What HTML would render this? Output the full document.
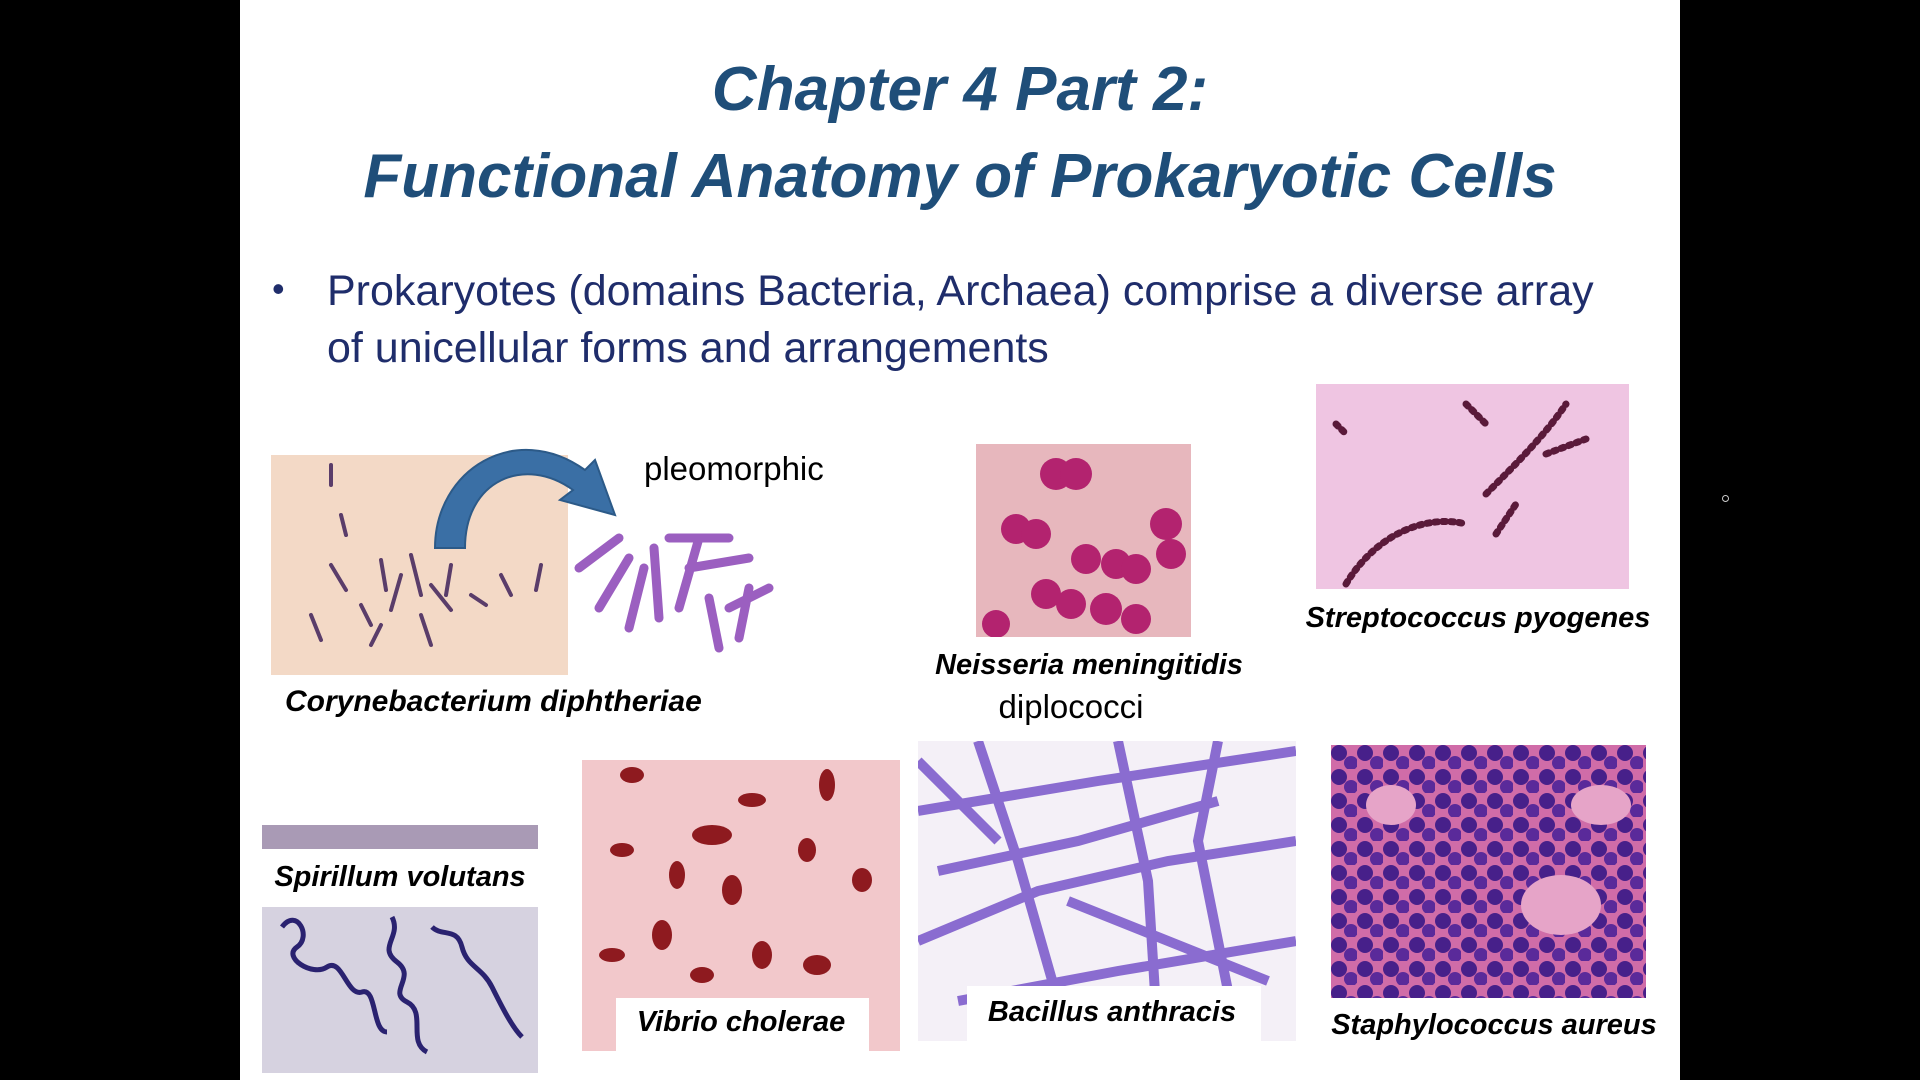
<!DOCTYPE html>
<html><head><meta charset="utf-8"><style>
body{margin:0;width:1920px;height:1080px;background:#000;position:relative;overflow:hidden;font-family:"Liberation Sans",sans-serif}
.slide{position:absolute;left:240px;top:0;width:1440px;height:1080px;background:#fff}
.t{position:absolute;white-space:nowrap}
.title{color:#1f4e79;font-weight:bold;font-style:italic;font-size:62px;left:240px;width:1440px;text-align:center}
.lab{font-weight:bold;font-style:italic;font-size:29px;color:#000}
.c{transform:translateX(-50%)}
.img{position:absolute;overflow:hidden}
</style></head><body>
<div class="slide"></div>
<div class="t title" style="top:54px">Chapter 4 Part 2:</div>
<div class="t title" style="top:141px">Functional Anatomy of Prokaryotic Cells</div>
<div class="t" style="left:272px;top:268px;font-size:36px;color:#1f2d6b">•</div>
<div class="t" style="left:327px;top:263px;font-size:43px;color:#1f2d6b;line-height:57px">Prokaryotes (domains Bacteria, Archaea) comprise a diverse array<br>of unicellular forms and arrangements</div>

<!-- Corynebacterium -->
<svg class="img" style="left:271px;top:455px" width="297" height="220"><rect width="297" height="220" fill="#f3d9c6"/>
<g stroke="#5a3d6a" stroke-width="4" stroke-linecap="round">
<path d="M60 110l15 25M110 105l5 30M130 120l-10 35M140 100l10 40M160 130l20 25M90 150l10 20M40 160l10 25M180 110l-5 30M200 140l15 10M70 60l5 20M230 120l10 20M150 160l10 30M110 170l-10 20M60 10l0 20M270 110l-5 25"/></g></svg>
<svg class="img" style="left:569px;top:508px" width="220" height="155">
<g stroke="#9b5fc0" stroke-width="9" stroke-linecap="round" fill="#8a4fb0">
<path d="M10 60L50 30M30 100L60 50M60 120L75 60M90 110L85 40M110 100L130 30M150 140L140 90M100 30L160 30M120 60L180 50M200 80L160 100M170 130L180 80"/></g></svg>
<svg class="img" style="left:425px;top:430px" width="200" height="120">
<path d="M10 118 C10 40 90 -10 160 40 L170 30 L190 85 L135 70 L148 60 C100 25 40 50 40 118Z" fill="#3a6fa5" stroke="#2c5a88" stroke-width="2"/></svg>
<div class="t" style="left:644px;top:450px;font-size:33px">pleomorphic</div>
<div class="t lab" style="left:285px;top:685px;font-size:30px">Corynebacterium diphtheriae</div>

<!-- Neisseria -->
<svg class="img" style="left:976px;top:444px" width="215" height="193"><rect width="215" height="193" fill="#e7b7bd"/>
<g fill="#b3236f"><circle cx="80" cy="30" r="16"/><circle cx="100" cy="30" r="16"/><circle cx="40" cy="85" r="15"/><circle cx="60" cy="90" r="15"/><circle cx="190" cy="80" r="16"/><circle cx="195" cy="110" r="15"/><circle cx="110" cy="115" r="15"/><circle cx="140" cy="120" r="15"/><circle cx="160" cy="125" r="15"/><circle cx="70" cy="150" r="15"/><circle cx="95" cy="160" r="15"/><circle cx="130" cy="165" r="16"/><circle cx="160" cy="175" r="15"/><circle cx="20" cy="180" r="14"/></g></svg>
<div class="t lab c" style="left:1089px;top:649px">Neisseria meningitidis</div>
<div class="t c" style="left:1071px;top:688px;font-size:33px">diplococci</div>

<!-- Streptococcus -->
<svg class="img" style="left:1316px;top:384px" width="313" height="205"><rect width="313" height="205" fill="#efc5e2"/>
<g stroke="#5a1a3a" stroke-width="7" stroke-linecap="round" stroke-dasharray="3 5" fill="none">
<path d="M30 200C60 150 110 130 150 140M170 110C200 80 230 50 250 20M180 150L200 120M230 70L270 55M20 40L30 50M150 20L170 40"/></g></svg>
<div class="t lab c" style="left:1478px;top:602px">Streptococcus pyogenes</div>

<!-- Spirillum -->
<div class="img" style="left:262px;top:825px;width:276px;height:24px;background:#a99ab5"></div>
<div class="t lab c" style="left:400px;top:861px">Spirillum volutans</div>
<svg class="img" style="left:262px;top:907px" width="276" height="166"><rect width="276" height="166" fill="#d6d2e0"/>
<g stroke="#2a2270" stroke-width="5" fill="none"><path d="M20 20c15-20 30 10 15 20s15 30 30 20 20 30 35 25 10 40 25 40"/><path d="M130 10c10 20-15 30 5 45s-10 30 10 40 0 40 20 50"/><path d="M170 20c10 10 25 0 30 20s20 20 30 40 20 40 30 50"/></g></svg>

<!-- Vibrio -->
<svg class="img" style="left:582px;top:760px" width="318" height="291"><rect width="318" height="291" fill="#f2c8cb"/>
<g fill="#8e1a1f"><ellipse cx="50" cy="15" rx="12" ry="8"/><ellipse cx="170" cy="40" rx="14" ry="7"/><ellipse cx="130" cy="75" rx="20" ry="10"/><ellipse cx="245" cy="25" rx="8" ry="16"/><ellipse cx="40" cy="90" rx="12" ry="7"/><ellipse cx="225" cy="90" rx="9" ry="12"/><ellipse cx="95" cy="115" rx="8" ry="14"/><ellipse cx="150" cy="130" rx="10" ry="15"/><ellipse cx="280" cy="120" rx="10" ry="12"/><ellipse cx="80" cy="175" rx="10" ry="15"/><ellipse cx="30" cy="195" rx="13" ry="7"/><ellipse cx="180" cy="195" rx="10" ry="14"/><ellipse cx="235" cy="205" rx="14" ry="10"/><ellipse cx="120" cy="215" rx="12" ry="8"/></g></svg>
<div class="img" style="left:616px;top:998px;width:253px;height:53px;background:#fff"></div>
<div class="t lab c" style="left:741px;top:1006px">Vibrio cholerae</div>

<!-- Bacillus -->
<svg class="img" style="left:918px;top:741px" width="378" height="300"><rect width="378" height="300" fill="#f4f0f7"/>
<g stroke="#8a6cd0" stroke-width="10" fill="none"><path d="M0 70L180 40 378 10M20 130L160 100 300 60M0 200L120 150 250 120 378 100M40 260L200 230 378 200M60 0L100 120 140 260M200 0L230 140 240 300M300 0L280 100 320 300M0 20L80 100M150 160L350 240"/></g></svg>
<div class="img" style="left:967px;top:986px;width:294px;height:55px;background:#fff"></div>
<div class="t lab c" style="left:1112px;top:996px">Bacillus anthracis</div>

<!-- Staph -->
<svg class="img" style="left:1331px;top:745px" width="315" height="253"><defs><pattern id="p" width="26" height="24" patternUnits="userSpaceOnUse"><rect width="26" height="24" fill="#d06ca8"/><circle cx="8" cy="8" r="8" fill="#47208a"/><circle cx="20" cy="18" r="7" fill="#5a2a9a"/></pattern></defs><rect width="315" height="253" fill="url(#p)"/>
<g fill="#e6a4c8"><ellipse cx="230" cy="160" rx="40" ry="30"/><ellipse cx="60" cy="60" rx="25" ry="20"/><ellipse cx="270" cy="60" rx="30" ry="20"/></g></svg>
<div class="t lab c" style="left:1494px;top:1009px">Staphylococcus aureus</div>

<div style="position:absolute;left:1722px;top:495px;width:5px;height:5px;border:1px solid #ccc;border-radius:50%"></div>
</body></html>
